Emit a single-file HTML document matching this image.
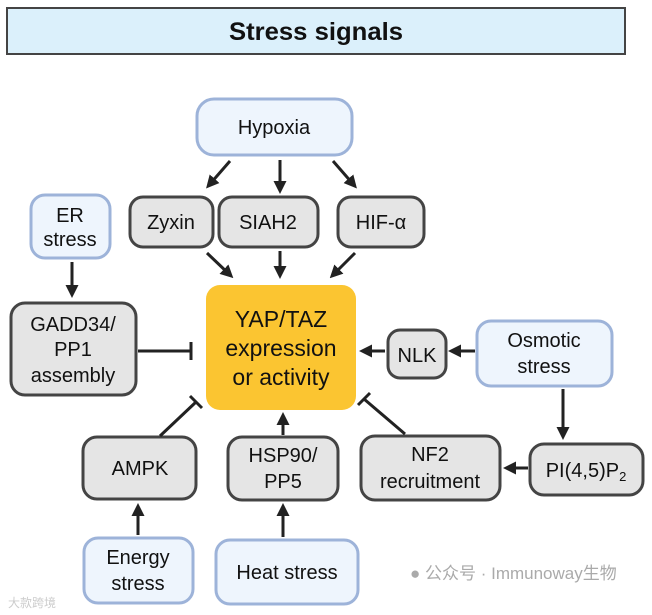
<!DOCTYPE html>
<html><head><meta charset="utf-8"><style>
html,body{margin:0;padding:0;background:#fff;width:652px;height:615px;overflow:hidden}
svg text{font-family:"Liberation Sans","Noto Sans CJK SC",sans-serif;fill:#111}
</style></head><body>
<svg width="652" height="615" viewBox="0 0 652 615" xmlns="http://www.w3.org/2000/svg">
<defs>
<marker id="a" markerWidth="13" markerHeight="13" refX="7" refY="6.5" orient="auto" markerUnits="userSpaceOnUse">
<path d="M0,0 L13,6.5 L0,13 Z" fill="#222"/></marker>
</defs>
<rect x="7" y="8" width="618" height="46" fill="#dbf0fb" stroke="#444" stroke-width="2"/>
<text x="316" y="40" font-size="25" font-weight="bold" text-anchor="middle" textLength="174" lengthAdjust="spacingAndGlyphs">Stress signals</text>

<g stroke="#9db3d9" stroke-width="3" fill="#eef5fd">
<rect x="197" y="99" width="155" height="56" rx="17"/>
<rect x="31" y="195" width="79" height="63" rx="14"/>
<rect x="477" y="321" width="135" height="65" rx="14"/>
<rect x="84" y="538" width="109" height="65" rx="14"/>
<rect x="216" y="540" width="142" height="64" rx="14"/>
</g>
<g stroke="#444" stroke-width="3" fill="#e5e5e5">
<rect x="130" y="197" width="83" height="50" rx="13"/>
<rect x="219" y="197" width="99" height="50" rx="13"/>
<rect x="338" y="197" width="86" height="50" rx="13"/>
<rect x="11" y="303" width="125" height="92" rx="14"/>
<rect x="388" y="330" width="58" height="48" rx="12"/>
<rect x="530" y="444" width="113" height="51" rx="14"/>
<rect x="361" y="436" width="139" height="64" rx="14"/>
<rect x="83" y="437" width="113" height="62" rx="14"/>
<rect x="228" y="437" width="110" height="63" rx="14"/>
</g>
<rect x="206" y="285" width="150" height="125" rx="14" fill="#fbc531"/>

<g font-size="20" text-anchor="middle">
<text x="274" y="134">Hypoxia</text>
<text x="70" y="222">ER</text><text x="70" y="246">stress</text>
<text x="544" y="347">Osmotic</text><text x="544" y="373">stress</text>
<text x="138" y="564">Energy</text><text x="138" y="590">stress</text>
<text x="287" y="579">Heat stress</text>
<text x="171" y="229">Zyxin</text>
<text x="268" y="229">SIAH2</text>
<text x="381" y="229">HIF-α</text>
<text x="73" y="331">GADD34/</text><text x="73" y="356">PP1</text><text x="73" y="382">assembly</text>
<text x="417" y="362">NLK</text>
<text x="586" y="477">PI(4,5)P<tspan font-size="13" dy="4">2</tspan></text>
<text x="430" y="461">NF2</text><text x="430" y="488">recruitment</text>
<text x="140" y="475">AMPK</text>
<text x="283" y="462">HSP90/</text><text x="283" y="488">PP5</text>
<text x="281" y="327" font-size="23">YAP/TAZ</text>
<text x="281" y="356" font-size="23">expression</text>
<text x="281" y="385" font-size="23">or activity</text>
</g>

<g stroke="#222" stroke-width="3" fill="none" marker-end="url(#a)">
<line x1="230" y1="161" x2="210" y2="184"/>
<line x1="280" y1="160" x2="280" y2="188"/>
<line x1="333" y1="161" x2="353" y2="184"/>
<line x1="207" y1="253" x2="229" y2="274"/>
<line x1="280" y1="251" x2="280" y2="273"/>
<line x1="355" y1="253" x2="334" y2="274"/>
<line x1="72" y1="262" x2="72" y2="292"/>
<line x1="385" y1="351" x2="365" y2="351"/>
<line x1="475" y1="351" x2="454" y2="351"/>
<line x1="563" y1="389" x2="563" y2="434"/>
<line x1="528" y1="468" x2="509" y2="468"/>
<line x1="283" y1="435" x2="283" y2="418"/>
<line x1="138" y1="535" x2="138" y2="509"/>
<line x1="283" y1="537" x2="283" y2="509"/>
</g>
<g stroke="#222" stroke-width="3" fill="none">
<line x1="138" y1="351" x2="191" y2="351"/><line x1="191" y1="342" x2="191" y2="360"/>
<line x1="160" y1="436" x2="196" y2="402"/><line x1="190" y1="396" x2="202" y2="408"/>
<line x1="405" y1="434" x2="364" y2="399"/><line x1="358" y1="405" x2="370" y2="393"/>
</g>
<text x="410" y="579" font-size="17" style="fill:#aaa">● 公众号 · Immunoway生物</text>
<text x="8" y="607" font-size="12" style="fill:#ccc">大款跨境</text>
</svg>
</body></html>
